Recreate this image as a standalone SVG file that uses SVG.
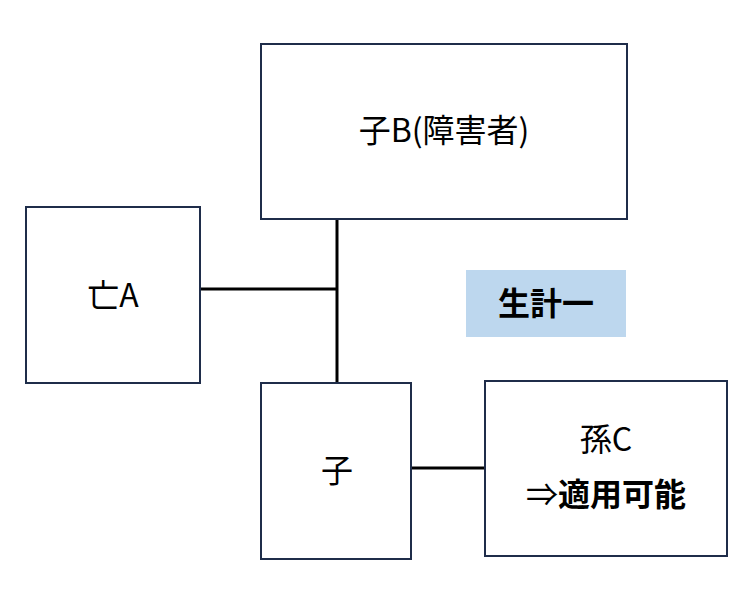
<svg xmlns="http://www.w3.org/2000/svg" width="752" height="596" viewBox="0 0 752 596">
<style>
.box{fill:#fff;stroke:#1f2d4a;stroke-width:2}
.t{font-family:"Noto Sans CJK JP","Noto Sans",sans-serif;font-size:32px;fill:#000;text-anchor:middle}
.b{font-weight:bold}
.c{stroke:#000;stroke-width:3;fill:none}
</style>
<rect width="752" height="596" fill="#fff"/>
<g id="connectors">
<line class="c" x1="337" y1="219" x2="337" y2="383"/>
<line class="c" x1="200" y1="289" x2="337" y2="289"/>
<line class="c" x1="411" y1="468" x2="485" y2="468"/>
</g>
<g id="nodeB"><rect class="box" x="261" y="44" width="366" height="175"/><text class="t" x="444" y="142">子B(障害者)</text></g>
<g id="nodeA"><rect class="box" x="26" y="207" width="174" height="176"/><text class="t" x="113" y="307">亡A</text></g>
<g id="nodeChild"><rect class="box" x="261" y="383" width="150" height="176"/><text class="t" x="337" y="482">子</text></g>
<g id="nodeC"><rect class="box" x="485" y="381" width="242" height="175"/><text class="t" x="606" y="451">孫C</text><text class="t" x="606" y="506"><tspan>⇒</tspan><tspan class="b">適用可能</tspan></text></g>
<g id="label"><rect x="466" y="270" width="160" height="67" fill="#bdd7ee"/><text class="t b" x="546" y="315">生計一</text></g>
</svg>
